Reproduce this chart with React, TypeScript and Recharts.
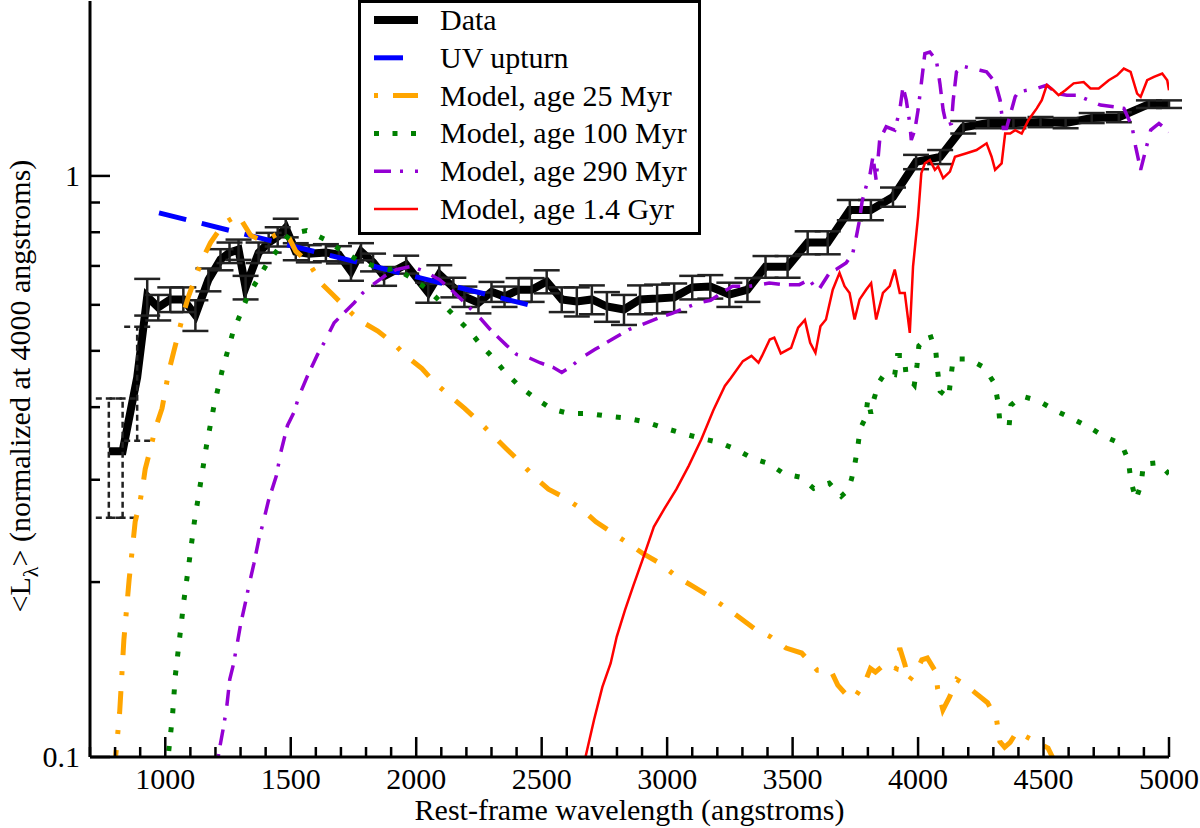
import React from 'react';
import { LineChart, Line, XAxis, YAxis, ErrorBar, Legend } from 'recharts';

const FONT = '"Liberation Serif", "Times New Roman", Times, serif';
const TXT = { fontFamily: FONT } as React.CSSProperties;

type P = [number, number];
type PE = [number, number, number];

// [wavelength (Å), <L_lambda>, error]
const uncertainPoints: PE[] = [
  [775, 0.336, 0.078],
  [830, 0.336, 0.078],
  [888, 0.45, 0.1],
];

const measuredPoints: PE[] = [
  [928, 0.62, 0.045], [972, 0.594, 0.03], [1020, 0.613, 0.03], [1072, 0.613, 0.03],
  [1120, 0.576, 0.035], [1172, 0.663, 0.03], [1220, 0.718, 0.03], [1256, 0.738, 0.03],
  [1292, 0.747, 0.03], [1320, 0.643, 0.03], [1372, 0.738, 0.03], [1412, 0.768, 0.03],
  [1448, 0.786, 0.03], [1480, 0.814, 0.03], [1520, 0.741, 0.025], [1572, 0.735, 0.025],
  [1640, 0.738, 0.025], [1692, 0.732, 0.025], [1740, 0.685, 0.025], [1780, 0.741, 0.025],
  [1828, 0.71, 0.025], [1872, 0.672, 0.025], [1960, 0.704, 0.025], [2048, 0.63, 0.025],
  [2092, 0.677, 0.025], [2148, 0.643, 0.025], [2192, 0.62, 0.025], [2248, 0.605, 0.025],
  [2300, 0.632, 0.025], [2352, 0.62, 0.025], [2408, 0.637, 0.03], [2460, 0.637, 0.03],
  [2520, 0.658, 0.03], [2580, 0.613, 0.03], [2640, 0.608, 0.035], [2700, 0.613, 0.035],
  [2760, 0.596, 0.035], [2828, 0.589, 0.035], [2892, 0.613, 0.035], [2960, 0.615, 0.035],
  [3028, 0.618, 0.035], [3100, 0.643, 0.03], [3172, 0.645, 0.03], [3248, 0.625, 0.03],
  [3320, 0.637, 0.03], [3392, 0.698, 0.03], [3480, 0.698, 0.03], [3560, 0.768, 0.035],
  [3640, 0.768, 0.035], [3728, 0.874, 0.035], [3812, 0.874, 0.035], [3900, 0.92, 0.035],
  [3992, 1.057, 0.03], [4088, 1.078, 0.03], [4180, 1.213, 0.03], [4280, 1.233, 0.025],
  [4380, 1.233, 0.025], [4488, 1.238, 0.025], [4588, 1.233, 0.025], [4692, 1.258, 0.025],
  [4800, 1.262, 0.025], [4920, 1.329, 0.02], [5000, 1.329, 0.02],
];

const uvUpturn: P[] = [[975, 0.864], [2495, 0.593]];

const model25Myr: P[] = [
  [790, 0.094], [802, 0.1], [818, 0.119], [835, 0.159], [856, 0.202], [880, 0.254], [900, 0.276],
  [913, 0.298], [920, 0.313], [940, 0.338], [960, 0.367], [987, 0.398], [1000, 0.427], [1013, 0.459],
  [1033, 0.497], [1053, 0.537], [1073, 0.581], [1093, 0.621], [1120, 0.668], [1147, 0.718],
  [1180, 0.767], [1220, 0.813], [1247, 0.835], [1280, 0.852], [1292, 0.856], [1310, 0.83],
  [1340, 0.79], [1380, 0.776], [1410, 0.778], [1440, 0.792], [1467, 0.8], [1485, 0.795],
  [1520, 0.742], [1573, 0.708], [1600, 0.677], [1613, 0.659], [1667, 0.625], [1713, 0.597],
  [1747, 0.578], [1780, 0.562], [1847, 0.541], [1907, 0.516], [1967, 0.487], [2023, 0.466],
  [2073, 0.441], [2140, 0.416], [2193, 0.398], [2247, 0.379], [2313, 0.355], [2360, 0.339],
  [2413, 0.322], [2473, 0.303], [2527, 0.289], [2587, 0.28], [2660, 0.267], [2716, 0.254],
  [2773, 0.2445], [2846, 0.233], [2903, 0.224], [2967, 0.216], [3040, 0.204], [3100, 0.197],
  [3160, 0.19], [3240, 0.18], [3295, 0.173], [3350, 0.166], [3412, 0.161], [3474, 0.154],
  [3536, 0.151], [3598, 0.141], [3652, 0.141], [3680, 0.133], [3728, 0.126], [3750, 0.127],
  [3790, 0.135], [3810, 0.142], [3830, 0.14], [3872, 0.145], [3913, 0.142], [3927, 0.154],
  [3948, 0.144], [3962, 0.135], [3996, 0.141], [4015, 0.147], [4037, 0.148], [4071, 0.14],
  [4078, 0.131], [4099, 0.1205], [4126, 0.127], [4154, 0.136], [4190, 0.133], [4222, 0.1296],
  [4277, 0.124], [4312, 0.1166], [4326, 0.1063], [4345, 0.104], [4367, 0.106], [4394, 0.1106],
  [4420, 0.109], [4456, 0.107], [4518, 0.1036], [4545, 0.098],
];

const model100Myr: P[] = [
  [1005, 0.095], [1013, 0.1016], [1029, 0.118], [1040, 0.138], [1057, 0.16], [1075, 0.187],
  [1096, 0.218], [1116, 0.254], [1140, 0.295], [1164, 0.343], [1193, 0.4], [1227, 0.463],
  [1269, 0.537], [1327, 0.619], [1407, 0.708], [1497, 0.795], [1564, 0.805], [1633, 0.779],
  [1700, 0.745], [1763, 0.718], [1830, 0.7], [1892, 0.69], [1913, 0.695], [1980, 0.668],
  [2044, 0.639], [2097, 0.607], [2153, 0.574], [2207, 0.544], [2256, 0.513], [2309, 0.485],
  [2357, 0.458], [2413, 0.434], [2476, 0.414], [2540, 0.397], [2609, 0.39], [2687, 0.39],
  [2764, 0.386], [2840, 0.383], [2917, 0.377], [2991, 0.368], [3067, 0.36], [3140, 0.353],
  [3206, 0.348], [3277, 0.338], [3343, 0.326], [3405, 0.32], [3467, 0.307], [3532, 0.303],
  [3584, 0.29], [3646, 0.296], [3694, 0.281], [3721, 0.288], [3735, 0.301], [3749, 0.321],
  [3760, 0.342], [3769, 0.367], [3790, 0.383], [3800, 0.413], [3812, 0.39], [3824, 0.413],
  [3845, 0.442], [3869, 0.458], [3907, 0.455], [3918, 0.491], [3945, 0.491], [3952, 0.455],
  [3985, 0.437], [3996, 0.473], [4003, 0.51], [4048, 0.533], [4071, 0.497], [4078, 0.461],
  [4088, 0.426], [4122, 0.415], [4130, 0.448], [4140, 0.484], [4202, 0.484], [4264, 0.468],
  [4305, 0.439], [4319, 0.407], [4326, 0.377], [4363, 0.372], [4370, 0.403], [4412, 0.418],
  [4481, 0.41], [4545, 0.395], [4611, 0.383], [4679, 0.37], [4742, 0.356], [4810, 0.346],
  [4838, 0.324], [4848, 0.299], [4868, 0.277], [4889, 0.295], [4898, 0.319], [4957, 0.321],
  [5000, 0.307],
];

const model290Myr: P[] = [
  [1205, 0.095], [1213, 0.1016], [1231, 0.112], [1244, 0.121], [1257, 0.136], [1271, 0.144],
  [1287, 0.157], [1300, 0.169], [1320, 0.185], [1333, 0.197], [1353, 0.215], [1373, 0.237],
  [1391, 0.254], [1411, 0.276], [1443, 0.305], [1460, 0.334], [1487, 0.372], [1513, 0.392],
  [1533, 0.418], [1567, 0.453], [1607, 0.493], [1640, 0.523], [1673, 0.559], [1707, 0.578],
  [1753, 0.605], [1787, 0.629], [1827, 0.65], [1873, 0.672], [1920, 0.69], [1980, 0.699],
  [2033, 0.685], [2093, 0.663], [2140, 0.637], [2180, 0.613], [2220, 0.589], [2260, 0.566],
  [2300, 0.541], [2360, 0.511], [2400, 0.493], [2447, 0.487], [2493, 0.477], [2547, 0.468],
  [2580, 0.459], [2620, 0.471], [2660, 0.487], [2713, 0.503], [2793, 0.527], [2847, 0.544],
  [2900, 0.555], [2967, 0.57], [3020, 0.58], [3073, 0.593], [3127, 0.605], [3173, 0.611],
  [3260, 0.646], [3327, 0.646], [3407, 0.654], [3460, 0.65], [3527, 0.65], [3567, 0.663],
  [3600, 0.633], [3647, 0.681], [3673, 0.69], [3713, 0.708], [3740, 0.737], [3753, 0.782],
  [3767, 0.841], [3777, 0.904], [3793, 0.959], [3807, 0.997], [3820, 1.079], [3833, 0.984],
  [3847, 1.153], [3873, 1.215], [3907, 1.199], [3927, 1.298], [3940, 1.423], [3953, 1.35],
  [3967, 1.231], [3973, 1.153], [3987, 1.199], [4000, 1.298], [4013, 1.443], [4027, 1.624],
  [4047, 1.634], [4073, 1.581], [4087, 1.443], [4100, 1.298], [4113, 1.223], [4133, 1.231],
  [4140, 1.35], [4153, 1.51], [4180, 1.544], [4247, 1.52], [4273, 1.51], [4307, 1.451],
  [4327, 1.35], [4340, 1.207], [4352, 1.207], [4387, 1.368], [4400, 1.395], [4433, 1.404],
  [4473, 1.414], [4513, 1.433], [4553, 1.386], [4593, 1.377], [4633, 1.377], [4680, 1.35],
  [4727, 1.324], [4780, 1.315], [4820, 1.307], [4853, 1.215], [4867, 1.123], [4887, 1.024],
  [4907, 1.108], [4927, 1.199], [4960, 1.231], [5000, 1.191],
];

const model14Gyr: P[] = [
  [2668, 0.095], [2676, 0.1006], [2709, 0.116], [2742, 0.132], [2775, 0.145], [2799, 0.161],
  [2832, 0.179], [2865, 0.197], [2906, 0.221], [2947, 0.249], [2988, 0.267], [3037, 0.289],
  [3086, 0.317], [3136, 0.352], [3185, 0.396], [3230, 0.435], [3254, 0.449], [3302, 0.48],
  [3336, 0.49], [3364, 0.477], [3378, 0.49], [3409, 0.523], [3427, 0.527], [3453, 0.495],
  [3494, 0.506], [3522, 0.548], [3549, 0.565], [3570, 0.516], [3591, 0.496], [3611, 0.551],
  [3633, 0.566], [3660, 0.637], [3687, 0.681], [3707, 0.646], [3727, 0.629], [3747, 0.566],
  [3767, 0.613], [3793, 0.637], [3813, 0.654], [3833, 0.566], [3860, 0.629], [3887, 0.646],
  [3907, 0.69], [3927, 0.629], [3947, 0.629], [3967, 0.537], [3980, 0.699], [4000, 0.852],
  [4013, 1.011], [4027, 1.051], [4047, 1.065], [4067, 1.024], [4080, 1.038], [4100, 0.991],
  [4127, 1.017], [4147, 1.079], [4193, 1.094], [4233, 1.108], [4273, 1.138], [4293, 1.079],
  [4307, 1.024], [4333, 1.051], [4347, 1.183], [4367, 1.183], [4387, 1.199], [4413, 1.183],
  [4440, 1.248], [4473, 1.307], [4493, 1.35], [4513, 1.433], [4540, 1.404], [4560, 1.377],
  [4587, 1.404], [4620, 1.443], [4660, 1.451], [4687, 1.414], [4720, 1.414], [4760, 1.461],
  [4793, 1.49], [4820, 1.53], [4847, 1.51], [4873, 1.386], [4887, 1.368], [4913, 1.461],
  [4940, 1.481], [4973, 1.5], [4993, 1.461], [5000, 1.404],
];

const xTicks = [
  700, 800, 900, 1000, 1100, 1200, 1300, 1400, 1500, 1600, 1700, 1800, 1900, 2000, 2100,
  2200, 2300, 2400, 2500, 2600, 2700, 2800, 2900, 3000, 3100, 3200, 3300, 3400, 3500, 3600,
  3700, 3800, 3900, 4000, 4100, 4200, 4300, 4400, 4500, 4600, 4700, 4800, 4900, 5000,
];
const xMajorTicks = [1000, 1500, 2000, 2500, 3000, 3500, 4000, 4500, 5000];
const yTicks = [0.1, 0.2, 0.3, 0.4, 0.5, 0.6, 0.7, 0.8, 0.9, 1];
const yMajorTicks = ['0.1', '1'];

const seriesNames = [
  'Data',
  'UV upturn',
  'Model, age 25 Myr',
  'Model, age 100 Myr',
  'Model, age 290 Myr',
  'Model, age 1.4 Gyr',
];

const styles = {
  data: { stroke: '#000000', width: 8 },
  uv: { stroke: '#0000ff', width: 5, dash: '28 16' },
  m25: { stroke: '#ffa500', width: 5, dash: '23 16 4 16' },
  m100: { stroke: '#008000', width: 5, dash: '5 14' },
  m290: { stroke: '#9400d3', width: 3.5, dash: '16 9 16 9 3 12' },
  m14: { stroke: '#ff0000', width: 2.5 },
};

const legendSamples: { stroke: string; width: number; dash?: string }[] = [
  { stroke: '#000000', width: 8 },
  { stroke: '#0000ff', width: 5, dash: '29 40' },
  { stroke: '#ffa500', width: 5, dash: '4 15 26 10' },
  { stroke: '#008000', width: 5, dash: '5 13.5' },
  { stroke: '#9400d3', width: 3.5, dash: '17 9 3 12 3 20' },
  { stroke: '#ff0000', width: 2.5 },
];

const toRows = (pts: P[]) => pts.map(([w, l]) => ({ w, l }));
const toErrRows = (pts: PE[]) => pts.map(([w, l, e]) => ({ w, l, e }));

const allMeasured = toErrRows([...uncertainPoints, ...measuredPoints]);
const dashedErr = toErrRows(uncertainPoints);
const solidErr = toErrRows(measuredPoints);

const TICK_W = 2.5;

const XTickBottom = (props: any) => {
  const { x, y, payload } = props;
  const v = payload.value;
  return (
    <g>
      <line x1={x} x2={x} y1={y} y2={y - (v % 500 === 0 ? 20 : 10)} stroke="#000" strokeWidth={TICK_W} />
      {xMajorTicks.includes(v) && (
        <text x={x} y={y + 32} textAnchor="middle" fontFamily={FONT} style={TXT} fontSize={30} fill="#000">
          {v}
        </text>
      )}
    </g>
  );
};

const XTickTop = (props: any) => {
  const { x, y, payload } = props;
  const v = payload.value;
  return <line x1={x} x2={x} y1={y} y2={y + (v % 500 === 0 ? 20 : 10)} stroke="#000" strokeWidth={TICK_W} />;
};

const yLabelOf = (v: number) => (Math.abs(v - 0.1) < 1e-9 ? '0.1' : Math.abs(v - 1) < 1e-9 ? '1' : '');

const YTickLeft = (props: any) => {
  const { x, y, payload } = props;
  const lab = yLabelOf(payload.value);
  const major = yMajorTicks.includes(lab);
  return (
    <g>
      <line x1={x} x2={x + (major ? 20 : 10)} y1={y} y2={y} stroke="#000" strokeWidth={TICK_W} />
      {major && (
        <text x={x - 10} y={y + 10} textAnchor="end" fontFamily={FONT} style={TXT} fontSize={30} fill="#000">
          {lab}
        </text>
      )}
    </g>
  );
};

const YTickRight = (props: any) => {
  const { x, y, payload } = props;
  const major = yMajorTicks.includes(yLabelOf(payload.value));
  return <line x1={x} x2={x - (major ? 20 : 10)} y1={y} y2={y} stroke="#000" strokeWidth={TICK_W} />;
};

const YTitle = () => {
  const cx = 30;
  const cy = 386;
  return (
    <text
      x={cx}
      y={cy}
      transform={`rotate(-90, ${cx}, ${cy})`}
      textAnchor="middle"
      fontFamily={FONT}
      style={TXT}
      fontSize={30}
      fill="#000"
    >
      {'<L'}
      <tspan dy={8} fontSize={22}>λ</tspan>
      <tspan dy={-8}>{'> (normalized at 4000 angstroms)'}</tspan>
    </text>
  );
};

const renderLegend = () => (
  <svg width={343} height={236} style={{ display: 'block' }}>
    <rect x={1.5} y={1.5} width={340} height={232} fill="#fff" stroke="#000" strokeWidth={3} />
    {seriesNames.map((name, i) => {
      const st = legendSamples[i];
      const cy = 20 + 37.8 * i;
      return (
        <g key={name}>
          <line x1={16} x2={60} y1={cy} y2={cy} stroke={st.stroke} strokeWidth={st.width} strokeDasharray={st.dash} />
          <text x={82} y={cy + 10} fontFamily={FONT} style={TXT} fontSize={30} fill="#000">
            {name}
          </text>
        </g>
      );
    })}
  </svg>
);

export default function App() {
  const axisLine = { stroke: '#000', strokeWidth: 3 };
  const common = { dot: false, activeDot: false, isAnimationActive: false, xAxisId: 'b', yAxisId: 'l', dataKey: 'l' } as any;
  return (
    <div style={{ position: 'absolute', left: 0, top: 0, width: 1200, height: 828, background: '#fff', fontFamily: FONT }}>
      <LineChart width={1200} height={828} margin={{ top: 1, right: 31, bottom: 0, left: 0 }} style={{ fontFamily: FONT }}>
        <XAxis
          xAxisId="b"
          type="number"
          dataKey="w"
          domain={[700, 5000]}
          allowDataOverflow
          ticks={xTicks}
          interval={0}
          tick={XTickBottom}
          tickLine={false}
          tickSize={0}
          tickMargin={0}
          axisLine={axisLine}
          height={71}
          label={{
            value: 'Rest-frame wavelength (angstroms)',
            position: 'insideBottom',
            offset: 8,
            fontFamily: FONT,
            fontSize: 30,
            fill: '#000',
          }}
        />
        <XAxis
          xAxisId="t"
          orientation="top"
          type="number"
          dataKey="w"
          domain={[700, 5000]}
          allowDataOverflow
          ticks={xTicks}
          interval={0}
          tick={XTickTop}
          tickLine={false}
          tickSize={0}
          tickMargin={0}
          axisLine={axisLine}
          height={0}
        />
        <YAxis
          yAxisId="l"
          type="number"
          scale="log"
          domain={[0.1, 2]}
          allowDataOverflow
          ticks={yTicks}
          interval={0}
          tick={YTickLeft}
          tickLine={false}
          tickSize={0}
          tickMargin={0}
          axisLine={axisLine}
          width={90}
          label={<YTitle />}
        />
        <YAxis
          yAxisId="r"
          orientation="right"
          type="number"
          scale="log"
          domain={[0.1, 2]}
          allowDataOverflow
          ticks={yTicks}
          interval={0}
          tick={YTickRight}
          tickLine={false}
          tickSize={0}
          tickMargin={0}
          axisLine={axisLine}
          width={0}
        />

        <Line {...common} data={allMeasured} name={seriesNames[0]} stroke={styles.data.stroke} strokeWidth={styles.data.width} strokeLinejoin="miter" />
        <Line {...common} data={solidErr} stroke="none" legendType="none" name="err-solid">
          <ErrorBar dataKey="e" width={13} stroke="#222" strokeWidth={2.5} isAnimationActive={false} />
        </Line>
        <Line {...common} data={dashedErr} stroke="none" legendType="none" name="err-dashed">
          <ErrorBar dataKey="e" width={13} stroke="#222" strokeWidth={2.5} strokeDasharray="6 4" isAnimationActive={false} />
        </Line>
        <Line {...common} data={toRows(uvUpturn)} name={seriesNames[1]} stroke={styles.uv.stroke} strokeWidth={styles.uv.width} strokeDasharray={styles.uv.dash} />
        <Line {...common} data={toRows(model25Myr)} name={seriesNames[2]} stroke={styles.m25.stroke} strokeWidth={styles.m25.width} strokeDasharray={styles.m25.dash} />
        <Line {...common} data={toRows(model100Myr)} name={seriesNames[3]} stroke={styles.m100.stroke} strokeWidth={styles.m100.width} strokeDasharray={styles.m100.dash} />
        <Line {...common} data={toRows(model290Myr)} name={seriesNames[4]} stroke={styles.m290.stroke} strokeWidth={styles.m290.width} strokeDasharray={styles.m290.dash} />
        <Line {...common} data={toRows(model14Gyr)} name={seriesNames[5]} stroke={styles.m14.stroke} strokeWidth={styles.m14.width} />

        <Legend
          content={renderLegend}
          layout="vertical"
          align="center"
          verticalAlign="middle"
          wrapperStyle={{ left: 358, top: 0, width: 343, height: 236 }}
        />
      </LineChart>
    </div>
  );
}
